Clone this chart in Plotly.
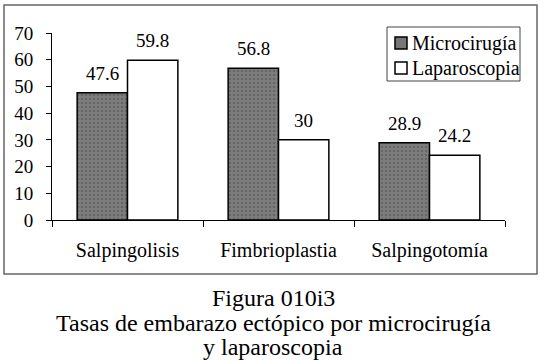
import plotly.graph_objects as go

categories = ["Salpingolisis", "Fimbrioplastia", "Salpingotomía"]
microcirugia = [47.6, 56.8, 28.9]
laparoscopia = [59.8, 30, 24.2]
micro_labels = ["47.6", "56.8", "28.9"]
lapa_labels = ["59.8", "30", "24.2"]
series_names = ["Microcirugía", "Laparoscopia"]
y_ticks = [0, 10, 20, 30, 40, 50, 60, 70]
title_lines = ["Figura 010i3", "Tasas de embarazo ectópico por microcirugía", "y laparoscopia"]

FONT = "Liberation Serif, Times New Roman, serif"
MICRO_FILL = "#767676"
MICRO_PATTERN = dict(shape=".", fgcolor="#4e4e4e", bgcolor="#7e7e7e", size=4, solidity=0.35)

fig = go.Figure()
fig.add_trace(go.Bar(
    x=categories, y=microcirugia, name=series_names[0],
    marker=dict(color=MICRO_FILL, line=dict(color="black", width=1.5), pattern=MICRO_PATTERN),
))
fig.add_trace(go.Bar(
    x=categories, y=laparoscopia, name=series_names[1],
    marker=dict(color="white", line=dict(color="black", width=1.5)),
))

W, H = 545, 362
L, R, T, B = 52, 40, 33, 142
pw, ph = W - L - R, H - T - B
bar_px = pw / 3 * (1 - 0.333) / 2  # width of one bar in pixels

def px(x):
    return (x - L) / pw

def py(y):
    return (H - B - y) / ph

annotations = []
# value labels above bars
for vals, labs, sgn in [(microcirugia, micro_labels, -1), (laparoscopia, lapa_labels, 1)]:
    for c, v, t in zip(categories, vals, labs):
        annotations.append(dict(x=c, y=v, xref="x", yref="y", text=t, showarrow=False,
                                xanchor="center", yanchor="bottom",
                                xshift=sgn * bar_px / 2, yshift=7,
                                font=dict(family=FONT, size=19, color="black")))

# figure caption
for line, yy in zip(title_lines, [298, 323, 347]):
    annotations.append(dict(text=line, xref="paper", yref="paper", x=px(273), y=py(yy),
                            showarrow=False, xanchor="center", yanchor="middle",
                            font=dict(family=FONT, size=24, color="black")))

shapes = [dict(type="rect", xref="paper", yref="paper",
               x0=px(4), x1=px(537), y0=py(274), y1=py(5),
               line=dict(color="#666", width=1.5), layer="below")]

# legend box drawn manually
shapes.append(dict(type="rect", xref="paper", yref="paper",
                   x0=px(387), x1=px(520), y0=py(81), y1=py(27),
                   line=dict(color="#444", width=1), fillcolor="white"))
for name, fill, yc in [(series_names[0], MICRO_FILL, 43), (series_names[1], "white", 68)]:
    shapes.append(dict(type="rect", xref="paper", yref="paper",
                       x0=px(395), x1=px(407), y0=py(yc + 6), y1=py(yc - 6),
                       line=dict(color="black", width=1.5), fillcolor=fill))
    annotations.append(dict(text=name, xref="paper", yref="paper", x=px(410), y=py(yc),
                            showarrow=False, xanchor="left", yanchor="middle",
                            font=dict(family=FONT, size=20, color="black")))

fig.update_layout(
    width=W, height=H,
    margin=dict(l=L, r=R, t=T, b=B),
    paper_bgcolor="white", plot_bgcolor="white",
    barmode="group", bargap=0.333, bargroupgap=0,
    font=dict(family=FONT, size=20, color="black"),
    showlegend=False,
    shapes=shapes, annotations=annotations,
)
fig.update_xaxes(showline=True, linecolor="black", linewidth=1,
                 ticks="outside", tickson="boundaries", ticklen=6, tickcolor="black",
                 tickfont=dict(family=FONT, size=20), ticklabelstandoff=12)
fig.update_yaxes(range=[0, 70], tickvals=y_ticks, showline=True, linecolor="black", linewidth=1,
                 ticks="outside", ticklen=5, tickcolor="black", showgrid=False, zeroline=False,
                 tickfont=dict(family=FONT, size=19), ticklabelstandoff=9)

fig.write_html("out.html", config={"displayModeBar": False},
               post_script="document.body.style.margin='0';")
